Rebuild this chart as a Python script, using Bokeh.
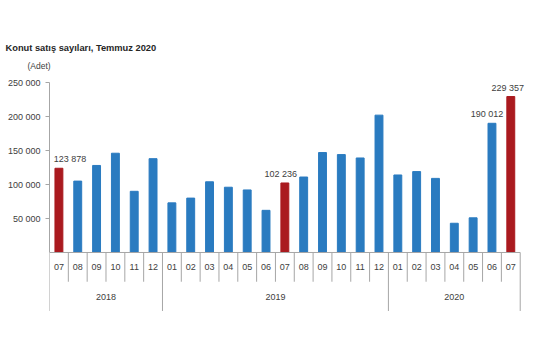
from bokeh.plotting import figure
from bokeh.models import FixedTicker, Title, Range1d
from bokeh.core.properties import value
from bokeh.embed import file_html
from bokeh.resources import INLINE

# ---- data ----
title_text = "Konut satış sayıları, Temmuz 2020"
unit_text = "(Adet)"
months = ["07", "08", "09", "10", "11", "12",
          "01", "02", "03", "04", "05", "06", "07", "08", "09", "10", "11", "12",
          "01", "02", "03", "04", "05", "06", "07"]
years = ["2018", "2019", "2020"]
months_per_year = [6, 12, 7]
sales = [123878, 105000, 128000, 146000, 90000, 138000,
         73000, 80000, 104000, 96000, 92000, 62000, 102236, 111000, 147000, 144000, 139000, 202000,
         114000, 119000, 109000, 43000, 51000, 190012, 229357]
labelled_bars = [0, 12, 23, 24]
bar_labels = ["123 878", "102 236", "190 012", "229 357"]
yticks = [50000, 100000, 150000, 200000, 250000]
ytick_labels = ["50 000", "100 000", "150 000", "200 000", "250 000"]

# ---- styles ----
BLUE = "#2A7BC0"
RED = "#AA1A1F"
GRAY = "#A6A6A6"
TXT = "#404040"
FONT = "Liberation Sans"
label_x_offsets = [11, -4, -5, -3]

n = len(months)
xc = [i + 0.5 for i in range(n)]
colors = [RED if m == "07" else BLUE for m in months]

p = figure(width=555, height=355, output_backend="svg", toolbar_location=None,
           x_range=Range1d(0, 25.6), y_range=Range1d(-92650, 260300),
           x_axis_type=None, min_border_left=49, min_border_right=24,
           min_border_top=75, min_border_bottom=40)
p.outline_line_color = None
p.grid.visible = False
p.background_fill_color = "white"

p.vbar(x=xc, top=sales, bottom=0, width=0.42, color=colors)

# value labels
p.text(x=[xc[i] for i in labelled_bars], y=[sales[i] for i in labelled_bars], text=bar_labels,
       x_offset=label_x_offsets, y_offset=-4, text_align="center", text_baseline="bottom",
       text_font=value(FONT), text_font_size="9px", text_color=TXT)

# category axis: baseline and separators
year_bounds = [0]
for c in months_per_year:
    year_bounds.append(year_bounds[-1] + c)
month_bounds = [b for b in range(1, n) if b not in year_bounds]
p.segment(x0=[0], y0=[0], x1=[n], y1=[0], line_color=GRAY, line_width=1)
p.segment(x0=month_bounds, y0=[0] * len(month_bounds), x1=month_bounds,
          y1=[-43000] * len(month_bounds), line_color=GRAY, line_width=1)
p.segment(x0=year_bounds, y0=[0] * len(year_bounds), x1=year_bounds,
          y1=[-86000] * len(year_bounds), line_color=GRAY, line_width=1)

p.text(x=xc, y=[-22000] * n, text=months, text_align="center", text_baseline="middle",
       text_font=value(FONT), text_font_size="9px", text_color=TXT)
year_centers = [(year_bounds[k] + year_bounds[k + 1]) / 2 for k in range(len(years))]
p.text(x=year_centers, y=[-66000] * len(years), text=years, text_align="center",
       text_baseline="middle", text_font=value(FONT), text_font_size="9px", text_color=TXT)

# y axis
ya = p.yaxis[0]
ya.ticker = FixedTicker(ticks=yticks)
ya.major_label_overrides = dict(zip(yticks, ytick_labels))
ya.bounds = (0, 250000)
ya.axis_line_color = GRAY
ya.major_tick_line_color = GRAY
ya.major_tick_out = 4
ya.major_tick_in = 0
ya.minor_tick_line_color = None
ya.major_label_standoff = 5
ya.major_label_text_font = FONT
ya.major_label_text_font_size = "9px"
ya.major_label_text_color = TXT

p.title = Title(text=title_text, align="left", offset=-44, standoff=1,
                text_font=FONT, text_font_size="9.3px", text_font_style="bold",
                text_color="#262626")
p.add_layout(Title(text=unit_text, align="left", offset=-22, standoff=10,
                   text_font=FONT, text_font_size="8.5px", text_font_style="normal",
                   text_color=TXT), "above")

open("out.html", "w").write(file_html(p, INLINE))
